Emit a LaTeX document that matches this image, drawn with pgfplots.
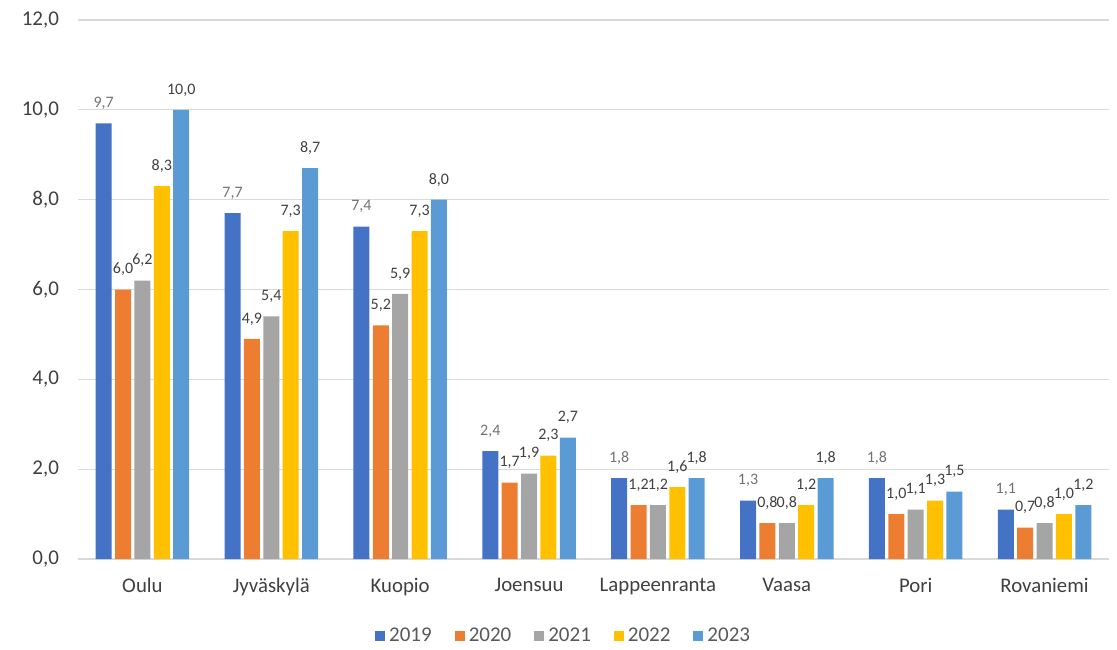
\documentclass[border=0pt]{standalone}
\usepackage{fontspec}
\setmainfont{Carlito}
\usepackage{pgfplots}
\pgfplotsset{compat=1.18}
\definecolor{cA}{HTML}{4472C4}
\definecolor{cB}{HTML}{ED7D31}
\definecolor{cC}{HTML}{A5A5A5}
\definecolor{cD}{HTML}{FFC000}
\definecolor{cE}{HTML}{5B9BD5}
\definecolor{gridc}{HTML}{D9D9D9}
\definecolor{tickc}{HTML}{595959}
\definecolor{labc}{HTML}{404040}
\begin{document}
\begin{tikzpicture}
\path[use as bounding box] (-39pt,-45pt) rectangle (519.5pt,279.5pt);
\begin{axis}[
  at={(0,0)}, anchor=south west,
  scale only axis, width=515.5pt, height=269.5pt,
  ybar=1.7pt, bar width=8pt,
  xmin=-0.5, xmax=7.5, ymin=0, ymax=12,
  xtick={0,...,7},
  xticklabels={Oulu,Jyväskylä,Kuopio,Joensuu,Lappeenranta,Vaasa,Pori,Rovaniemi},
  ytick={0,2,...,12},
  major tick length=0pt,
  axis line style={draw=none},
  ymajorgrids, grid style={gridc, line width=0.6pt},
  /pgf/number format/.cd, fixed, fixed zerofill, precision=1, use comma, assume math mode=true,
  /pgfplots/.cd,
  yticklabel style={font=\fontsize{10.5}{12}\selectfont, text=labc, xshift=-6pt},
  xticklabel style={font=\fontsize{10.4}{12}\selectfont, text=labc, yshift=-6pt},
  nodes near coords,
  every node near coord/.append style={font=\fontsize{8}{9}\selectfont, anchor=center, yshift=10pt, text=labc},
  legend columns=5,
  legend style={at={(0.472,-0.1429)}, anchor=center, draw=none, font=\fontsize{10.5}{12}\selectfont, text=tickc,
    /tikz/every even column/.append style={column sep=9.5pt}},
  legend image code/.code={\fill[#1] (0pt,-2.5pt) rectangle (5pt,2.5pt);},
]
\addplot[fill=cA, draw=none, every node near coord/.append style={text=tickc!85}] coordinates {(0,9.7) (1,7.7) (2,7.4) (3,2.4) (4,1.8) (5,1.3) (6,1.8) (7,1.1)};
\addplot[fill=cB, draw=none] coordinates {(0,6.0) (1,4.9) (2,5.2) (3,1.7) (4,1.2) (5,0.8) (6,1.0) (7,0.7)};
\addplot[fill=cC, draw=none] coordinates {(0,6.2) (1,5.4) (2,5.9) (3,1.9) (4,1.2) (5,0.8) (6,1.1) (7,0.8)};
\addplot[fill=cD, draw=none] coordinates {(0,8.3) (1,7.3) (2,7.3) (3,2.3) (4,1.6) (5,1.2) (6,1.3) (7,1.0)};
\addplot[fill=cE, draw=none] coordinates {(0,10.0) (1,8.7) (2,8.0) (3,2.7) (4,1.8) (5,1.8) (6,1.5) (7,1.2)};
\legend{2019,2020,2021,2022,2023}
\end{axis}
\end{tikzpicture}
\end{document}
